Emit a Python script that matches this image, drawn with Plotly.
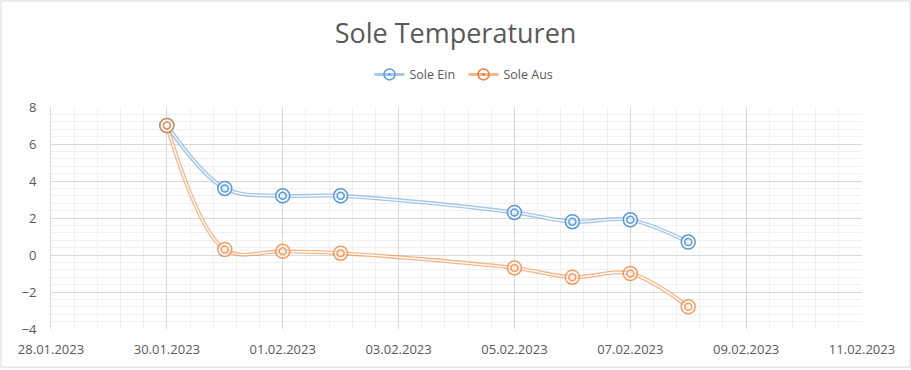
import plotly.graph_objects as go

dates = ["2023-01-30", "2023-01-31", "2023-02-01", "2023-02-02",
         "2023-02-05", "2023-02-06", "2023-02-07", "2023-02-08"]
sole_ein = [7.0, 3.6, 3.2, 3.2, 2.3, 1.8, 1.9, 0.7]
sole_aus = [7.0, 0.3, 0.2, 0.1, -0.7, -1.2, -1.0, -2.8]

series = [
    ("Sole Ein", sole_ein, "#5b9bd5", "rgba(91,155,213,0.55)", "rgba(91,155,213,1)"),
    ("Sole Aus", sole_aus, "#ed7d31", "rgba(237,125,49,0.55)", "rgba(237,125,49,0.75)"),
]

FONT = "Open Sans"
GRAY = "#595959"

fig = go.Figure()
for name, vals, col, light, mcol in series:
    fig.add_trace(go.Scatter(x=dates, y=vals, mode="lines", showlegend=False,
                             line=dict(color=light, width=4, shape="spline", smoothing=1),
                             hoverinfo="skip"))
    fig.add_trace(go.Scatter(x=dates, y=vals, mode="lines", showlegend=False,
                             line=dict(color="white", width=1.3, shape="spline", smoothing=1),
                             hoverinfo="skip"))
for name, vals, col, light, mcol in series:
    fig.add_trace(go.Scatter(x=dates, y=vals, mode="markers", showlegend=False,
                             marker=dict(symbol="circle", size=14, color="rgba(255,255,255,0.5)",
                                         line=dict(color=mcol, width=1.5))))
    fig.add_trace(go.Scatter(x=dates, y=vals, mode="markers", showlegend=False,
                             marker=dict(symbol="circle-open", size=7, color=mcol,
                                         line=dict(color=mcol, width=1.5))))
for name, vals, col, light, mcol in series:
    fig.add_trace(go.Scatter(x=[None], y=[None], mode="lines+markers", name=name,
                             line=dict(color=light, width=3),
                             marker=dict(symbol="circle-open-dot", size=11, color=col,
                                         line=dict(color=col, width=1.5))))

fig.update_layout(
    width=911, height=370,
    margin=dict(l=51, r=49, t=107, b=39),
    paper_bgcolor="white", plot_bgcolor="white",
    font=dict(family=FONT, size=13, color=GRAY),
    title=dict(text="Sole Temperaturen", x=0.5, xanchor="center", y=0.91, yanchor="middle",
               font=dict(family=FONT, size=27, color=GRAY)),
    legend=dict(orientation="h", x=0.5 + 7 / 811, xanchor="center", y=1.145, yanchor="middle",
                font=dict(family=FONT, size=12.5, color=GRAY), itemwidth=30,
                entrywidth=49, entrywidthmode="pixels"),
    xaxis=dict(type="date", range=["2023-01-28", "2023-02-11"],
               tick0="2023-01-28", dtick=2 * 86400000, tickformat="%d.%m.%Y",
               showgrid=True, gridcolor="#d9d9d9", gridwidth=1,
               minor=dict(dtick=0.4 * 86400000, tick0="2023-01-28",
                          showgrid=True, gridcolor="#f0f0f0", gridwidth=1),
               showline=False, zeroline=False, ticks="", ticklabelstandoff=11,
               tickfont=dict(family=FONT, size=13, color=GRAY)),
    yaxis=dict(range=[-4, 8], dtick=2, tick0=0,
               showgrid=True, gridcolor="#d9d9d9", gridwidth=1,
               minor=dict(dtick=0.4, tick0=0, showgrid=True, gridcolor="#f0f0f0", gridwidth=1),
               showline=True, linecolor="#d9d9d9", linewidth=1,
               zeroline=False, ticks="", ticklabelstandoff=11,
               tickfont=dict(family=FONT, size=13, color=GRAY)),
    shapes=[dict(type="rect", xref="paper", yref="paper", x0=-50/811, x1=1 + 48/811,
                 y0=-38.5/224, y1=1 + 107/224, line=dict(color="#d9d9d9", width=1),
                 layer="below")],
)

fig.write_html("out.html", config={"displayModeBar": False},
               post_script="document.body.style.margin='0';")
